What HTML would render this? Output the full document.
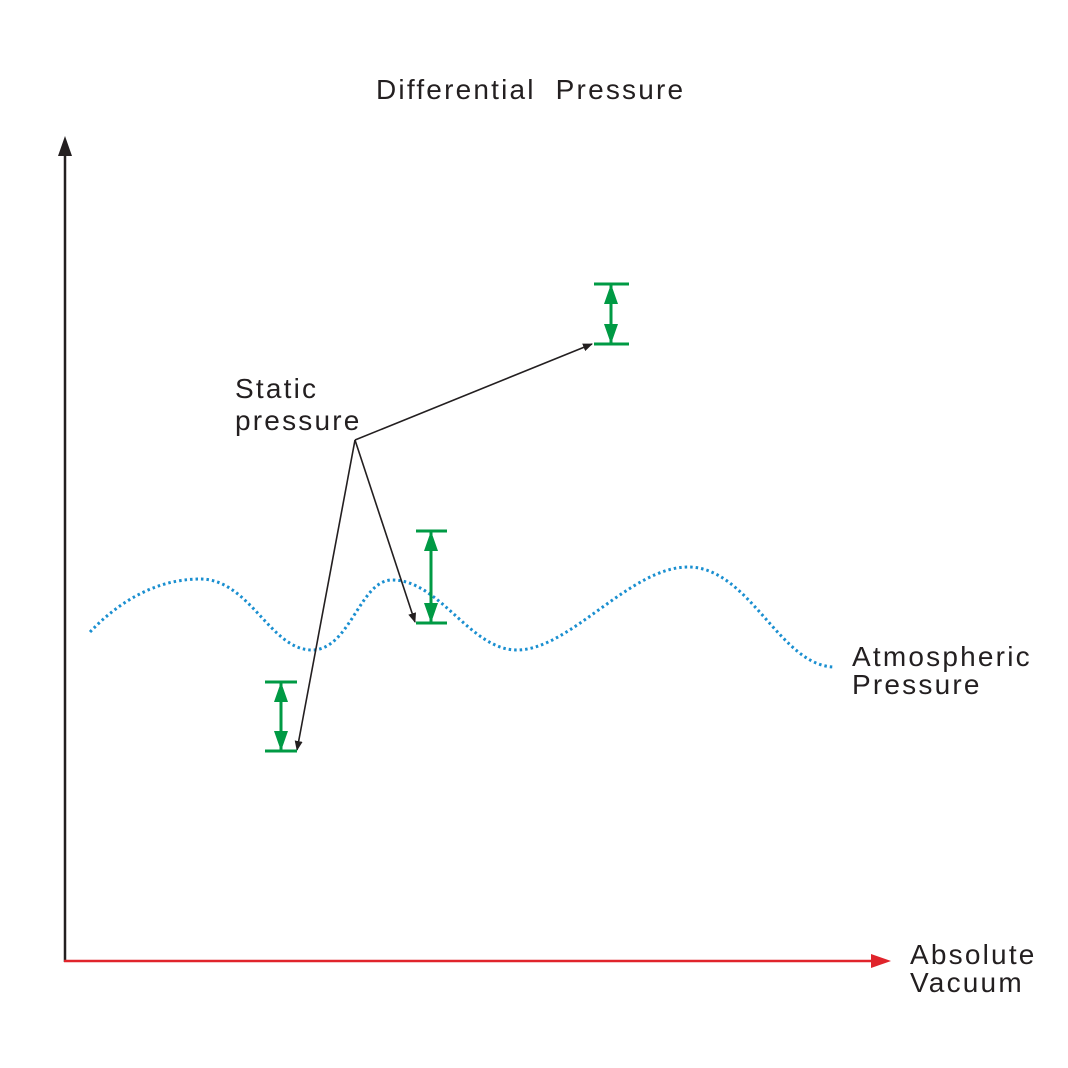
<!DOCTYPE html>
<html><head><style>body{margin:0;background:#fff}svg{display:block}text{font-family:"Liberation Sans",sans-serif;fill:#231f20;font-size:28px;letter-spacing:2.2px;white-space:pre}</style></head><body>
<svg width="1068" height="1068" viewBox="0 0 1068 1068">
<defs>
<marker id="bk" markerWidth="10" markerHeight="8" refX="9" refY="4" orient="auto" markerUnits="userSpaceOnUse"><path d="M0,0 L10,4 L0,8 z" fill="#231f20"/></marker>
<marker id="gr" markerWidth="20" markerHeight="14" refX="19" refY="7" orient="auto" markerUnits="userSpaceOnUse"><path d="M0,0 L20,7 L0,14 z" fill="#009a44"/></marker>
</defs>
<text x="376" y="99" xml:space="preserve">Differential  Pressure</text>
<line x1="65" y1="962" x2="65" y2="150" stroke="#231f20" stroke-width="2.5"/>
<path d="M65,136 L58,156 L72,156 z" fill="#231f20"/>
<line x1="64" y1="961" x2="876" y2="961" stroke="#e0242b" stroke-width="2.5"/>
<path d="M891,961 L871,954 L871,968 z" fill="#e0242b"/>
<path d="M90,632 C130,590 170,579 200,579 C250,579 270,650 312,650 C350,650 360,580 392,580 C440,580 470,650 517,650 C570,650 630,567 688,567 C750,567 780,667 835,667" fill="none" stroke="#1a8fd0" stroke-width="3" stroke-dasharray="2.5 3"/>
<text x="235" y="398">Static</text>
<text x="235" y="430">pressure</text>
<text x="852" y="666">Atmospheric</text>
<text x="852" y="694">Pressure</text>
<text x="910" y="964">Absolute</text>
<text x="910" y="992">Vacuum</text>
<g stroke="#231f20" stroke-width="1.6">
<line x1="355" y1="440" x2="592" y2="344" marker-end="url(#bk)"/>
<line x1="355" y1="440" x2="415" y2="622" marker-end="url(#bk)"/>
<line x1="355" y1="440" x2="297" y2="750" marker-end="url(#bk)"/>
</g>
<g stroke="#009a44" stroke-width="3">
<line x1="594" y1="284" x2="629" y2="284"/><line x1="594" y1="344" x2="629" y2="344"/>
<line x1="611" y1="314" x2="611" y2="285" marker-end="url(#gr)"/><line x1="611" y1="314" x2="611" y2="343" marker-end="url(#gr)"/>
<line x1="416" y1="531" x2="447" y2="531"/><line x1="416" y1="623" x2="447" y2="623"/>
<line x1="431" y1="577" x2="431" y2="532" marker-end="url(#gr)"/><line x1="431" y1="577" x2="431" y2="622" marker-end="url(#gr)"/>
<line x1="265" y1="682" x2="297" y2="682"/><line x1="265" y1="751" x2="297" y2="751"/>
<line x1="281" y1="716" x2="281" y2="683" marker-end="url(#gr)"/><line x1="281" y1="716" x2="281" y2="750" marker-end="url(#gr)"/>
</g>
</svg>
</body></html>
